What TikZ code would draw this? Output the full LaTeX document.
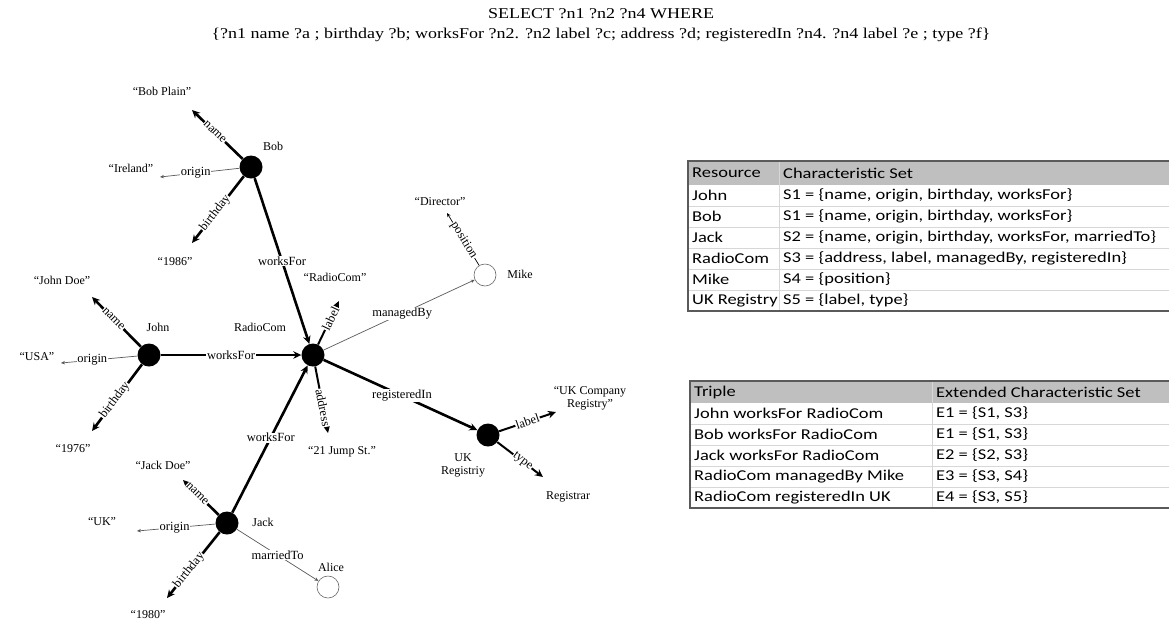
\documentclass[tikz,border=0pt]{standalone}
\usepackage{fontspec}
\setmainfont{Liberation Serif}
\newfontfamily\titlefont{Liberation Serif}[FakeStretch=1.2]
\newfontfamily\tabfont{Carlito}[FakeStretch=1.23]
\usetikzlibrary{arrows.meta}
\definecolor{hdrgray}{RGB}{191,191,191}
\definecolor{rulegray}{RGB}{215,215,215}
\definecolor{bordergray}{RGB}{90,90,90}
\begin{document}
\begin{tikzpicture}[x=1pt,y=-1pt,
  res/.style={circle, fill=black, minimum size=23pt, inner sep=0pt},
  emp/.style={circle, draw=black!60, line width=0.6pt, minimum size=22pt, inner sep=0pt},
  lit/.style={font=\fontsize{12}{14}\selectfont, inner sep=1pt},
  elab/.style={fill=white, inner sep=0.6pt, font=\fontsize{12.5}{13}\selectfont},
  strong/.style={line width=2.6pt, -{Stealth[length=8pt,width=7.5pt]}},
  weak/.style={line width=0.7pt, draw=black!65, -{Stealth[length=4pt,width=3.5pt]}},
  ttl/.style={font=\titlefont\fontsize{15}{17}\selectfont, inner sep=0pt},
  cell/.style={font=\tabfont\fontsize{15}{17}\selectfont, anchor=west, inner sep=0pt},
  rowline/.style={draw=rulegray, line width=0.7pt},
  outline/.style={draw=bordergray, line width=1.2pt}]
\useasboundingbox (0,0) rectangle (1169,625);

% ---------------- title ----------------
\node[ttl] (title1) at (601,14) {SELECT ?n1 ?n2 ?n4 WHERE};
\node[ttl] (title2) at (601,35) {\{?n1 name ?a ; birthday ?b; worksFor ?n2. ?n2 label ?c; address ?d; registeredIn ?n4. ?n4 label ?e ; type ?f\}};

% ---------------- resources ----------------
\node[res] (bob) at (251,167) {};
\node[res] (john) at (149,355) {};
\node[res] (radio) at (313,355) {};
\node[res] (jack) at (227,523) {};
\node[res] (uk) at (488,435) {};
\node[emp] (mike) at (485,275) {};
\node[emp] (alice) at (328,587) {};

\node[lit] (bobl) at (273,146) {Bob};
\node[lit] (johnl) at (158,327) {John};
\node[lit] (radiol) at (260,327) {RadioCom};
\node[lit] (jackl) at (263,522) {Jack};
\node[lit, align=center] (ukl) at (463,465) {UK\\[-1pt]Registriy};
\node[lit] (mikel) at (520,274) {Mike};
\node[lit] (alicel) at (331,567) {Alice};

% ---------------- literals ----------------
\node[lit] (bobplain) at (162,91) {“Bob Plain”};
\node[lit] (ireland) at (131,168) {“Ireland”};
\node[lit] (b1986) at (175,262) {“1986”};
\node[lit] (johndoe) at (62,280) {“John Doe”};
\node[lit] (usa) at (37,357) {“USA”};
\node[lit] (j1976) at (73,449) {“1976”};
\node[lit] (jackdoe) at (163,465) {“Jack Doe”};
\node[lit] (ukc) at (102,522) {“UK”};
\node[lit] (k1980) at (148,615) {“1980”};
\node[lit] (radiolit) at (335,277) {“RadioCom”};
\node[lit] (jump) at (342,452) {“21 Jump St.”};
\node[lit] (director) at (440,202) {“Director”};
\node[lit, align=center] (ukcomp) at (590,398) {“UK Company\\[-1pt]Registry”};
\node[lit] (registrar) at (568,497) {Registrar};

% ---------------- arrow tips ----------------
\coordinate (bobN) at (192,110);
\coordinate (bobO) at (160,177);
\coordinate (bobB) at (192,243);
\coordinate (johnN) at (92,297);
\coordinate (johnO) at (61,363);
\coordinate (johnB) at (92,431);
\coordinate (jackN) at (183,480);
\coordinate (jackO) at (137,531);
\coordinate (jackB) at (167,598);
\coordinate (radioL) at (339,301);
\coordinate (radioA) at (328,433);
\coordinate (mikeP) at (447,213);
\coordinate (ukL) at (556,412);
\coordinate (ukT) at (543,477);

% ---------------- edges ----------------
\draw[strong] (bob) -- node[elab,sloped,pos=0.55]{name} (bobN);
\draw[weak] (bob) -- node[elab,pos=0.55]{origin} (bobO);
\draw[strong] (bob) -- node[elab,sloped,pos=0.55]{birthday} (bobB);
\draw[strong] (bob) -- node[elab,pos=0.5]{worksFor} (radio);

\draw[strong] (john) -- node[elab,sloped,pos=0.56]{name} (johnN);
\draw[weak] (john) -- node[elab,pos=0.59]{origin} (johnO);
\draw[strong] (john) -- node[elab,sloped,pos=0.54]{birthday} (johnB);
\draw[strong] (john) -- node[elab,pos=0.5]{worksFor} (radio);

\draw[strong] (jack) -- node[elab,sloped,pos=0.6]{name} (jackN);
\draw[weak] (jack) -- node[elab,pos=0.52]{origin} (jackO);
\draw[strong] (jack) -- node[elab,sloped,pos=0.58]{birthday} (jackB);
\draw[strong] (jack) -- node[elab,pos=0.51]{worksFor} (radio);
\draw[weak] (jack) -- node[elab,pos=0.5]{marriedTo} (alice);

\draw[strong, line width=2pt] (radio) -- node[elab,sloped,pos=0.6]{label} (radioL);
\draw[strong, line width=2pt] (radio) -- node[elab,sloped,pos=0.62]{address} (radioA);
\draw[weak] (radio) -- node[elab,pos=0.52]{managedBy} (mike);
\draw[strong] (radio) -- node[elab,pos=0.51]{registeredIn} (uk);

\draw[weak, draw=black] (mike) -- node[elab,sloped,pos=0.48]{position} (mikeP);

\draw[strong, line width=2pt] (uk) -- node[elab,sloped,pos=0.5]{label} (ukL);
\draw[strong, line width=2pt] (uk) -- node[elab,sloped,pos=0.55]{type} (ukT);

% ---------------- table 1 ----------------
\fill[hdrgray] (688,161) rectangle (1169,185);
\foreach \yy in {206,227,248,269,290} \draw[rowline] (688,\yy) -- (1169,\yy);
\draw[rowline] (779,161) -- (779,311);
\draw[outline] (1169,161) -- (688,161) -- (688,311) -- (1169,311);
\node[cell] (t1h1) at (692,173) {Resource};
\node[cell] (t1h2) at (783,173) {Characteristic Set};
\node[cell] (t1r1a) at (692,195.5) {John};
\node[cell] (t1r1b) at (783,195.5) {S1 = \{name, origin, birthday, worksFor\}};
\node[cell] (t1r2a) at (692,216.5) {Bob};
\node[cell] (t1r2b) at (783,216.5) {S1 = \{name, origin, birthday, worksFor\}};
\node[cell] (t1r3a) at (692,237.5) {Jack};
\node[cell] (t1r3b) at (783,237.5) {S2 = \{name, origin, birthday, worksFor, marriedTo\}};
\node[cell] (t1r4a) at (692,258.5) {RadioCom};
\node[cell] (t1r4b) at (783,258.5) {S3 = \{address, label, managedBy, registeredIn\}};
\node[cell] (t1r5a) at (692,279.5) {Mike};
\node[cell] (t1r5b) at (783,279.5) {S4 = \{position\}};
\node[cell] (t1r6a) at (692,300.5) {UK Registry};
\node[cell] (t1r6b) at (783,300.5) {S5 = \{label, type\}};

% ---------------- table 2 ----------------
\fill[hdrgray] (690,381) rectangle (1169,403);
\foreach \yy in {424,445,466,487} \draw[rowline] (690,\yy) -- (1169,\yy);
\draw[rowline] (932,381) -- (932,508);
\draw[outline] (1169,381) -- (690,381) -- (690,508) -- (1169,508);
\node[cell] (t2h1) at (694,392) {Triple};
\node[cell] (t2h2) at (936,392) {Extended Characteristic Set};
\node[cell] (t2r1a) at (694,413.5) {John worksFor RadioCom};
\node[cell] (t2r1b) at (936,413.5) {E1 = \{S1, S3\}};
\node[cell] (t2r2a) at (694,434.5) {Bob worksFor RadioCom};
\node[cell] (t2r2b) at (936,434.5) {E1 = \{S1, S3\}};
\node[cell] (t2r3a) at (694,455.5) {Jack worksFor RadioCom};
\node[cell] (t2r3b) at (936,455.5) {E2 = \{S2, S3\}};
\node[cell] (t2r4a) at (694,476.5) {RadioCom managedBy Mike};
\node[cell] (t2r4b) at (936,476.5) {E3 = \{S3, S4\}};
\node[cell] (t2r5a) at (694,497.5) {RadioCom registeredIn UK};
\node[cell] (t2r5b) at (936,497.5) {E4 = \{S3, S5\}};
\end{tikzpicture}
\end{document}
